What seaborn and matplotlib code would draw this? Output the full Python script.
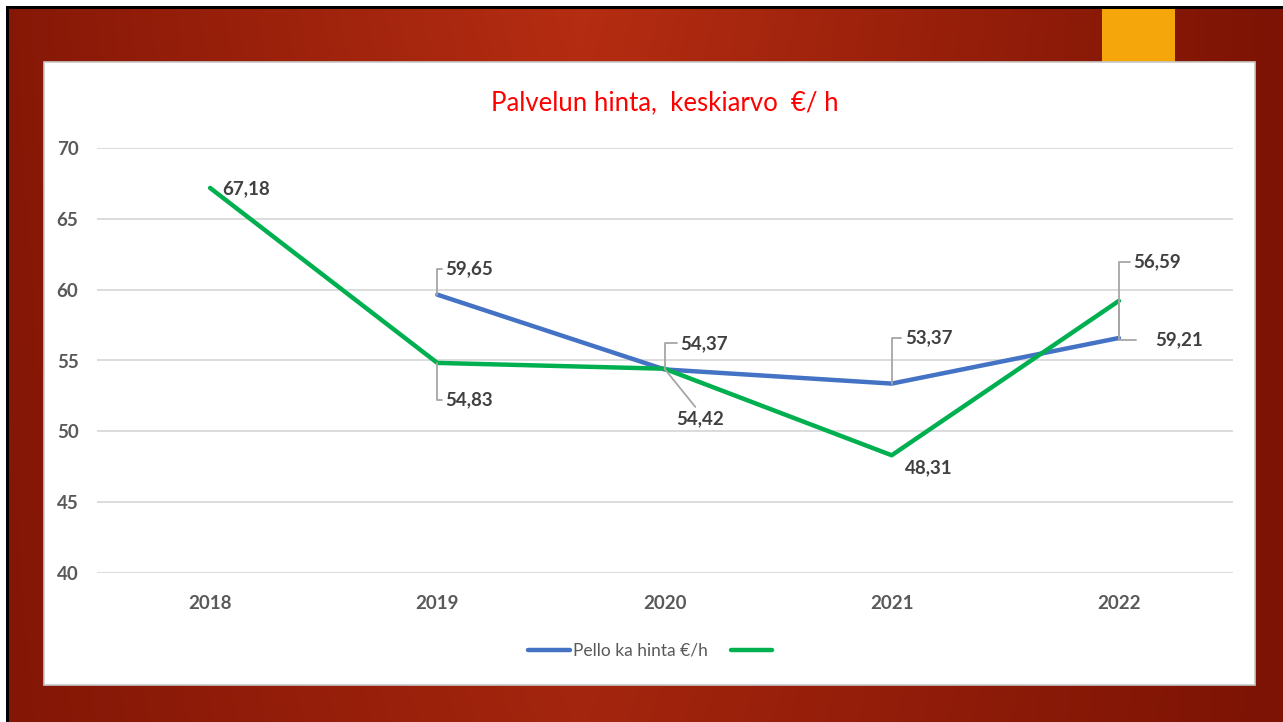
import numpy as np
import pandas as pd
import matplotlib
matplotlib.use("Agg")
import matplotlib.pyplot as plt
import seaborn as sns
from matplotlib.lines import Line2D
from matplotlib.patches import Rectangle

# Chart data
years = ["2018", "2019", "2020", "2021", "2022"]
pello = [np.nan, 59.65, 54.37, 53.37, 56.59]
other = [67.18, 54.83, 54.42, 48.31, 59.21]
label_pello = ["", "59,65", "54,37", "53,37", "56,59"]
label_other = ["67,18", "54,83", "54,42", "48,31", "59,21"]
y_ticks = [40, 45, 50, 55, 60, 65, 70]
title = "Palvelun hinta,  keskiarvo  €/ h"
legend_name = "Pello ka hinta €/h"

df = pd.DataFrame({
    "pos": list(range(len(years))) * 2,
    "value": pello + other,
    "series": ["pello"] * len(years) + ["other"] * len(years),
}).dropna()

sns.set_theme(style="white")
plt.rcParams["font.family"] = ["Lato", "DejaVu Sans"]

W, H = 1283, 722
fig = plt.figure(figsize=(W / 100, H / 100), dpi=100)
fig.patch.set_facecolor("white")

# slide background: dark red gradient (white margin top/left, then black edge)
bg = fig.add_axes([0, 0, 1, 1], zorder=0)
bg.set_xlim(0, 1)
bg.set_ylim(0, 1)
bg.axis("off")
gx = np.linspace(0, 1, 400)
gy = np.linspace(0, 1, 200)
X, Y = np.meshgrid(gx, gy)
t = np.clip(1 - np.abs(X - 0.45) / 0.55, 0, 1) * (1 - 0.3 * Y)
dark = np.array([0x7c, 0x13, 0x04]) / 255
light = np.array([0xb5, 0x2d, 0x12]) / 255
img = dark[None, None, :] + (light - dark)[None, None, :] * t[..., None]
bg.imshow(img, extent=[6 / W, 1, 0, 1 - 6 / H], aspect="auto", origin="upper")
bg.add_patch(Rectangle((6 / W, 1 - 9 / H), 1, 3 / H, color="black", lw=0))
bg.add_patch(Rectangle((6 / W, 0), 3 / W, 1 - 6 / H, color="black", lw=0))
# orange accent block
bg.add_patch(Rectangle((1102 / W, 1 - 62 / H), 73 / W, 53 / H, color="#f4a60a", lw=0))
# white chart area
bg.add_patch(Rectangle((44 / W, 1 - 685 / H), (1255 - 44) / W, (685 - 62) / H,
                       facecolor="white", edgecolor="#c8c8c8", lw=1.2))

ax = fig.add_axes([96.5 / W, 1 - 573 / H, (1232.5 - 96.5) / W, (573 - 148) / H], zorder=2)
ax.patch.set_alpha(0)

sns.lineplot(data=df, x="pos", y="value", hue="series",
             palette={"pello": "#4472c4", "other": "#00b050"},
             hue_order=["pello", "other"], linewidth=3.2, legend=False, ax=ax,
             zorder=3)

ax.set_xlim(-0.5, len(years) - 0.5)
ax.set_ylim(40, 70)
ax.set_xticks(range(len(years)))
ax.set_xticklabels(years)
ax.set_yticks(y_ticks)
ax.set_xlabel("")
ax.set_ylabel("")
ax.grid(axis="y", color="#d9d9d9", lw=1.3)
ax.grid(axis="x", visible=False)
ax.set_axisbelow(True)
sns.despine(ax=ax, left=True, bottom=True)
ax.tick_params(length=0, labelsize=13.5, labelcolor="#595959", pad=16)
ax.tick_params(axis="y", pad=13)
for lab in ax.get_xticklabels() + ax.get_yticklabels():
    lab.set_fontweight("bold")

lbl = dict(fontsize=13.5, fontweight="bold", color="#404040", va="center",
           textcoords="offset pixels", annotation_clip=False, zorder=4)
lead = dict(arrowstyle="-", color="#a6a6a6", lw=1.3, shrinkA=0, shrinkB=0,
            connectionstyle="angle,angleA=0,angleB=90,rad=0", relpos=(0, 0.5))

# blue series labels
ax.annotate(label_pello[1], (1, pello[1]), xytext=(8, 26), ha="left", arrowprops=lead, **lbl)
ax.annotate(label_pello[2], (2, pello[2]), xytext=(16, 26), ha="left", arrowprops=lead, **lbl)
ax.annotate(label_pello[3], (3, pello[3]), xytext=(13, 46), ha="left", arrowprops=lead, **lbl)
ax.annotate(label_pello[4], (4, pello[4]), xytext=(14, 76), ha="left", arrowprops=lead, **lbl)

# green series labels
ax.annotate(label_other[0], (0, other[0]), xytext=(12, -1), ha="left", **lbl)
ax.annotate(label_other[1], (1, other[1]), xytext=(8, -37), ha="left", arrowprops=lead, **lbl)
diag = dict(arrowstyle="-", color="#a6a6a6", lw=1.3, shrinkA=0, shrinkB=0, relpos=(0.45, 1))
ax.annotate(label_other[2], (2, other[2]), xytext=(12, -50), ha="left", arrowprops=diag, **lbl)
ax.annotate(label_other[3], (3, other[3]), xytext=(13, -12), ha="left", **lbl)
lead_gap = dict(lead, shrinkA=11)
ax.annotate(label_other[4], (4, other[4]), xytext=(36, -39), ha="left", arrowprops=lead_gap, **lbl)

ax.set_title(title, color="#ff0000", fontsize=18.5, pad=27)

handles = [Line2D([], [], color="#4472c4", lw=3.2, solid_capstyle="round"),
           Line2D([], [], color="#00b050", lw=3.2, solid_capstyle="round")]
fig.legend(handles, [legend_name, ""], loc="center", bbox_to_anchor=(652 / W, 1 - 651 / H),
           ncol=2, frameon=False, fontsize=12.5, labelcolor="#595959",
           handlelength=2.4, handletextpad=0.2, columnspacing=1.3)

fig.savefig("out.png", dpi=100)
